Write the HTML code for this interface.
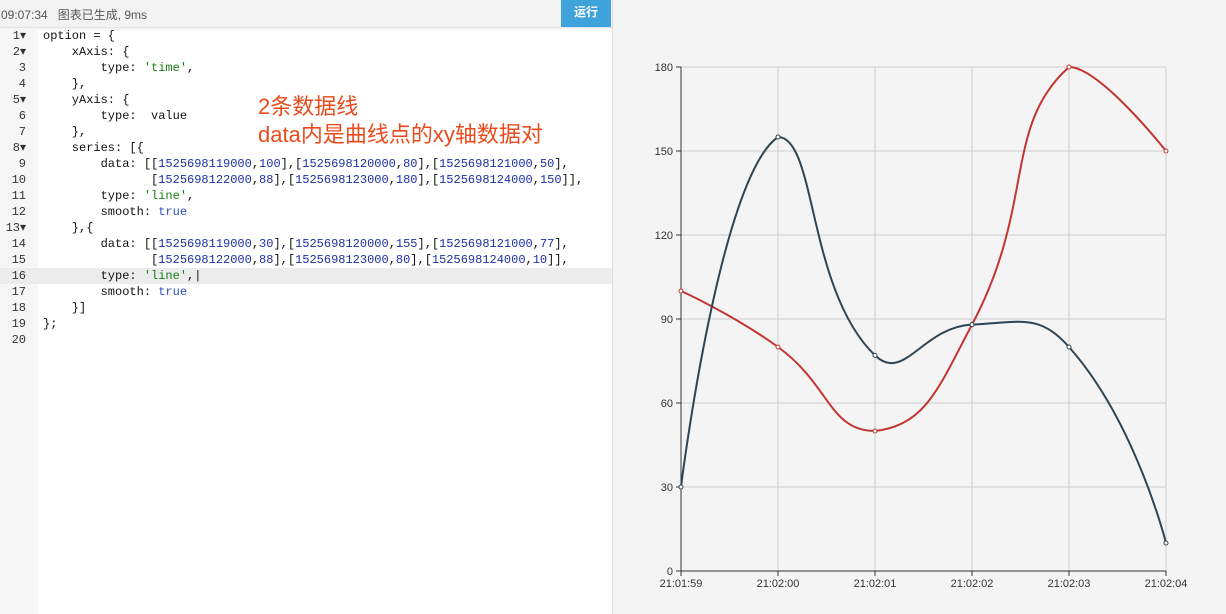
<!DOCTYPE html>
<html><head><meta charset="utf-8"><style>
body{margin:0;width:1226px;height:614px;overflow:hidden;background:#fff;font-family:"Liberation Sans","Noto Sans CJK SC",sans-serif;position:relative}
#top{position:absolute;left:0;top:0;width:612px;height:27px;background:#f3f3f3;border-bottom:1px solid #e4e4e4;box-shadow:0 1px 3px rgba(0,0,0,.08)}
#status{position:absolute;left:1px;top:6px;font-size:12px;color:#555}
#run{position:absolute;left:561px;top:0;width:50px;height:27px;background:#3ea2db;color:#fff;font-size:12px;line-height:24px;text-align:center;font-weight:bold}
#gutter{position:absolute;left:0;top:28px;width:38px;height:586px;background:#f6f6f6}
#code{position:absolute;left:0;top:27px;width:612px;font-family:"Liberation Mono","Noto Sans CJK SC",monospace;font-size:12px}
.ln{height:16px;line-height:16px;position:relative;white-space:pre}
.ln .n{position:absolute;left:0;width:26px;text-align:right;color:#333}
.ln .t{position:absolute;left:43px;color:#111}
.hl{background:#ececec}
.s{color:#1a7d1a}.num{color:#1f2fa8}.k{color:#2c4fc7}
#note{position:absolute;left:258px;top:93px;color:#ea4b1c;font-size:22px;line-height:28px}
#right{position:absolute;left:612px;top:0;width:614px;height:614px;background:#f4f4f4;border-left:1px solid #ddd}
</style></head><body>
<div id="top"><span id="status">09:07:34 &nbsp; 图表已生成, 9ms</span><div id="run">运行</div></div>
<div id="gutter"></div>
<div id="code">
<div style="height:1px"></div>
<div class="ln"><span class="n">1▾</span><span class="t">option = {</span></div>
<div class="ln"><span class="n">2▾</span><span class="t">    xAxis: {</span></div>
<div class="ln"><span class="n">3</span><span class="t">        type: <span class="s">'time'</span>,</span></div>
<div class="ln"><span class="n">4</span><span class="t">    },</span></div>
<div class="ln"><span class="n">5▾</span><span class="t">    yAxis: {</span></div>
<div class="ln"><span class="n">6</span><span class="t">        type:  value</span></div>
<div class="ln"><span class="n">7</span><span class="t">    },</span></div>
<div class="ln"><span class="n">8▾</span><span class="t">    series: [{</span></div>
<div class="ln"><span class="n">9</span><span class="t">        data: [[<span class="num">1525698119000</span>,<span class="num">100</span>],[<span class="num">1525698120000</span>,<span class="num">80</span>],[<span class="num">1525698121000</span>,<span class="num">50</span>],</span></div>
<div class="ln"><span class="n">10</span><span class="t">               [<span class="num">1525698122000</span>,<span class="num">88</span>],[<span class="num">1525698123000</span>,<span class="num">180</span>],[<span class="num">1525698124000</span>,<span class="num">150</span>]],</span></div>
<div class="ln"><span class="n">11</span><span class="t">        type: <span class="s">'line'</span>,</span></div>
<div class="ln"><span class="n">12</span><span class="t">        smooth: <span class="k">true</span></span></div>
<div class="ln"><span class="n">13▾</span><span class="t">    },{</span></div>
<div class="ln"><span class="n">14</span><span class="t">        data: [[<span class="num">1525698119000</span>,<span class="num">30</span>],[<span class="num">1525698120000</span>,<span class="num">155</span>],[<span class="num">1525698121000</span>,<span class="num">77</span>],</span></div>
<div class="ln"><span class="n">15</span><span class="t">               [<span class="num">1525698122000</span>,<span class="num">88</span>],[<span class="num">1525698123000</span>,<span class="num">80</span>],[<span class="num">1525698124000</span>,<span class="num">10</span>]],</span></div>
<div class="ln hl"><span class="n">16</span><span class="t">        type: <span class="s">'line'</span>,|</span></div>
<div class="ln"><span class="n">17</span><span class="t">        smooth: <span class="k">true</span></span></div>
<div class="ln"><span class="n">18</span><span class="t">    }]</span></div>
<div class="ln"><span class="n">19</span><span class="t">};</span></div>
<div class="ln"><span class="n">20</span><span class="t"></span></div>
</div>
<div id="note">2条数据线<br>data内是曲线点的xy轴数据对</div>
<div id="right"></div>
<svg id="chart" width="1226" height="614" style="position:absolute;left:0;top:0"></svg>
<script>
const xLabels=['21:01:59','21:02:00','21:02:01','21:02:02','21:02:03','21:02:04'];
const yTicks=[0,30,60,90,120,150,180];
const seriesA=[100,80,50,88,180,150];
const seriesB=[30,155,77,88,80,10];
const colors=['#c23531','#2f4554'];
const X0=681,X1=1166,Y0=571,Y1=67,YMAX=180;
const xs=i=>X0+(X1-X0)*i/(xLabels.length-1);
const ys=v=>Y0-(Y0-Y1)*v/YMAX;
const svg=document.getElementById('chart');
const NS='http://www.w3.org/2000/svg';
function mk(t,a){const e=document.createElementNS(NS,t);for(const k in a)e.setAttribute(k,a[k]);svg.appendChild(e);return e;}
yTicks.forEach(v=>{
 if(v>0){const g=mk('line',{x1:X0,x2:X1,y1:ys(v),y2:ys(v),stroke:'#ccc','stroke-width':1});
 }
 const t=mk('text',{x:X0-8,y:ys(v)+4,'text-anchor':'end','font-size':11,fill:'#333','font-family':'Liberation Sans, sans-serif'});t.textContent=v;
 
 const tk=mk('line',{x1:X0-5,x2:X0,y1:ys(v),y2:ys(v),stroke:'#333'});
 
});
xLabels.forEach((l,i)=>{
 if(i>0){const g=mk('line',{x1:xs(i),x2:xs(i),y1:Y1,y2:Y0,stroke:'#ccc'});
 }
 const tk=mk('line',{x1:xs(i),x2:xs(i),y1:Y0,y2:Y0+5,stroke:'#333'});
 
 const t=mk('text',{x:xs(i),y:Y0+16,'text-anchor':'middle','font-size':11,fill:'#333','font-family':'Liberation Sans, sans-serif'});t.textContent=l;
 
});
const ya=mk('line',{x1:X0,x2:X0,y1:Y1,y2:Y0,stroke:'#333'});

const xa=mk('line',{x1:X0,x2:X1,y1:Y0,y2:Y0,stroke:'#333'});

function smoothPath(vals){
 const p=vals.map((v,i)=>[xs(i),ys(v)]);const s=0.5;const cps=[];
 const minY=Math.min(...p.map(q=>q[1])),maxY=Math.max(...p.map(q=>q[1]));
 const cl=c=>[c[0],Math.max(minY,Math.min(maxY,c[1]))];
 for(let i=0;i<p.length;i++){
  if(i==0||i==p.length-1){cps.push([p[i],p[i]]);continue;}
  const pr=p[i-1],nx=p[i+1];const vx=nx[0]-pr[0],vy=nx[1]-pr[1];
  const d0=Math.hypot(p[i][0]-pr[0],p[i][1]-pr[1]),d1=Math.hypot(nx[0]-p[i][0],nx[1]-p[i][1]);const sm=d0+d1;
  cps.push([cl([p[i][0]-vx*s*d0/sm,p[i][1]-vy*s*d0/sm]),cl([p[i][0]+vx*s*d1/sm,p[i][1]+vy*s*d1/sm])]);
 }
 let d='M'+p[0].join(',');
 for(let i=1;i<p.length;i++)d+=' C'+cps[i-1][1].join(',')+' '+cps[i][0].join(',')+' '+p[i].join(',');
 return [d,p];
}
[seriesA,seriesB].forEach((vals,si)=>{
 const [d,p]=smoothPath(vals);
 const path=mk('path',{d:d,fill:'none',stroke:colors[si],'stroke-width':2});
 
 
 p.forEach(pt=>{const c=mk('circle',{cx:pt[0],cy:pt[1],r:2,fill:'#fff',stroke:colors[si],'stroke-width':1});
  });
});
</script>
</body></html>
